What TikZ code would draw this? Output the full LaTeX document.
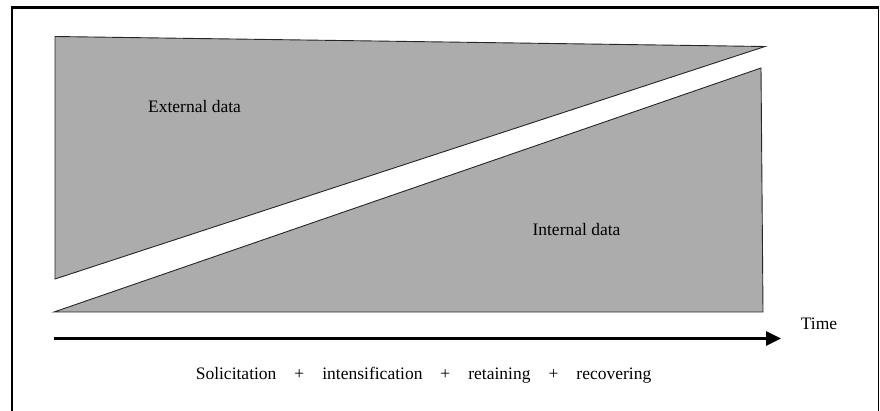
\documentclass[tikz,border=0pt]{standalone}
\usepackage{fontspec}
\setmainfont{Liberation Serif}
\usetikzlibrary{arrows.meta}
\definecolor{datagray}{RGB}{172,172,172}
\tikzset{
  frameline/.style={line width=2.4pt, black},
  datazone/.style={fill=datagray, draw=black!85, line width=0.9pt, line join=miter},
  lbl/.style={font=\fontsize{17.5}{20}\selectfont, inner sep=0pt, anchor=base},
  timeaxis/.style={line width=2.8pt, -{Triangle[length=15pt,width=14pt]}}
}
\begin{document}
\begin{tikzpicture}[x=1pt, y=-1pt]
  \useasboundingbox (0,0) rectangle (880,411);

  % open frame (top, left and right sides)
  \draw[frameline] (12,412) -- (12,7.5) -- (878.5,7.5);
  \draw[line width=1.6pt] (878.5,7.5) -- (878.5,412);

  % external data wedge
  \path[datazone] (55,36.5) -- (765,46.5) -- (55,279) -- cycle;
  % internal data wedge
  \path[datazone] (54,312) -- (761,68) -- (763,312) -- cycle;

  \node[lbl] (ext) at (194.5,112.5) {External data};
  \node[lbl] (int) at (576.5,235.5) {Internal data};

  % time axis
  \coordinate (t0) at (53.5,338.5);
  \coordinate (t1) at (781,338.5);
  \draw[timeaxis] (t0) -- (t1);
  \node[lbl] (time) at (819,330) {Time};

  \node[lbl] (phases) at (423.5,379) {Solicitation\hspace{18pt}+\hspace{18pt}intensification\hspace{18pt}+\hspace{18pt}retaining\hspace{18pt}+\hspace{18pt}recovering};
\end{tikzpicture}
\end{document}
